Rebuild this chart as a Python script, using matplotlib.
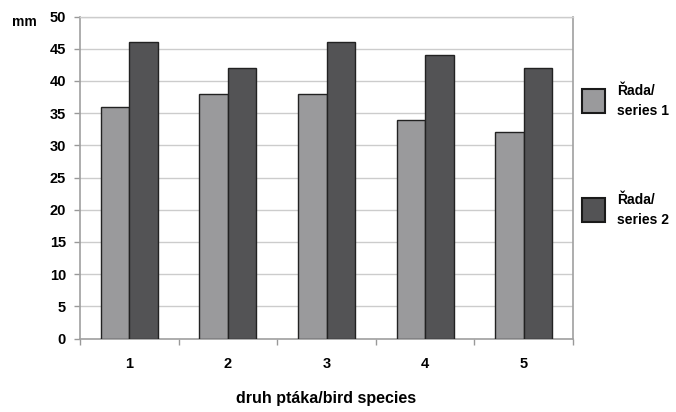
import matplotlib
matplotlib.use("Agg")
import matplotlib.pyplot as plt
import numpy as np
from matplotlib.patches import Rectangle

categories = ["1", "2", "3", "4", "5"]
series1 = [36, 38, 38, 34, 32]
series2 = [46, 42, 46, 44, 42]
legend_labels = ["Řada/\nseries 1", "Řada/\nseries 2"]
yticks = [0, 5, 10, 15, 20, 25, 30, 35, 40, 45, 50]

plt.rcParams['font.family'] = ['Liberation Sans', 'DejaVu Sans']

fig = plt.figure(figsize=(6.76, 4.12), dpi=100)
ax = fig.add_axes([80/676, 1-338.5/412, (573-80)/676, (338.5-16.5)/412])

x = np.arange(len(categories))
w = 0.29
c1 = "#9a9a9c"
c2 = "#535355"
ax.bar(x - w/2, series1, w, color=c1, edgecolor="#222222", linewidth=1.0, zorder=3)
ax.bar(x + w/2, series2, w, color=c2, edgecolor="#222222", linewidth=1.0, zorder=3)

ax.set_xlim(-0.5, len(categories) - 0.5)
ax.set_ylim(0, 50)
ax.set_yticks(yticks)
ax.set_yticklabels([str(v) for v in yticks], fontsize=10.5, fontweight="bold")
ax.set_xticks(x)
ax.set_xticklabels(categories, fontsize=10.5, fontweight="bold")
ax.tick_params(axis="x", length=0, pad=13)
ax.set_xticks(np.arange(-0.5, len(categories)), minor=True)
ax.tick_params(axis="x", which="minor", length=4, color="#999999", width=1)
ax.tick_params(axis="y", length=4, color="#999999", width=1, pad=6)
ax.yaxis.grid(True, color="#cccccc", linewidth=1, zorder=0)
for s in ["top", "right", "left", "bottom"]:
    ax.spines[s].set_color("#a0a0a0")
    ax.spines[s].set_linewidth(1.2)
ax.spines["top"].set_color("#cccccc")
ax.spines["top"].set_linewidth(1.0)

fig.text(12/676, 1-22/412, "mm", fontsize=10, fontweight="bold", va="center", ha="left")
fig.text(326/676, 1-399/412, "druh ptáka/bird species", fontsize=11.5, fontweight="bold", va="center", ha="center")

# legend
for i, (lab, col) in enumerate(zip(legend_labels, [c1, c2])):
    yc = [101, 210][i]
    fig.patches.append(Rectangle((582/676, 1-(yc+12)/412), 23/676, 24/412,
                                 transform=fig.transFigure, facecolor=col,
                                 edgecolor="#1a1a1a", linewidth=1.5))
    fig.text(617/676, 1-yc/412, lab, fontsize=10, fontweight="bold", va="center", ha="left", linespacing=1.5)

fig.savefig("out.png", dpi=100, facecolor="white")
